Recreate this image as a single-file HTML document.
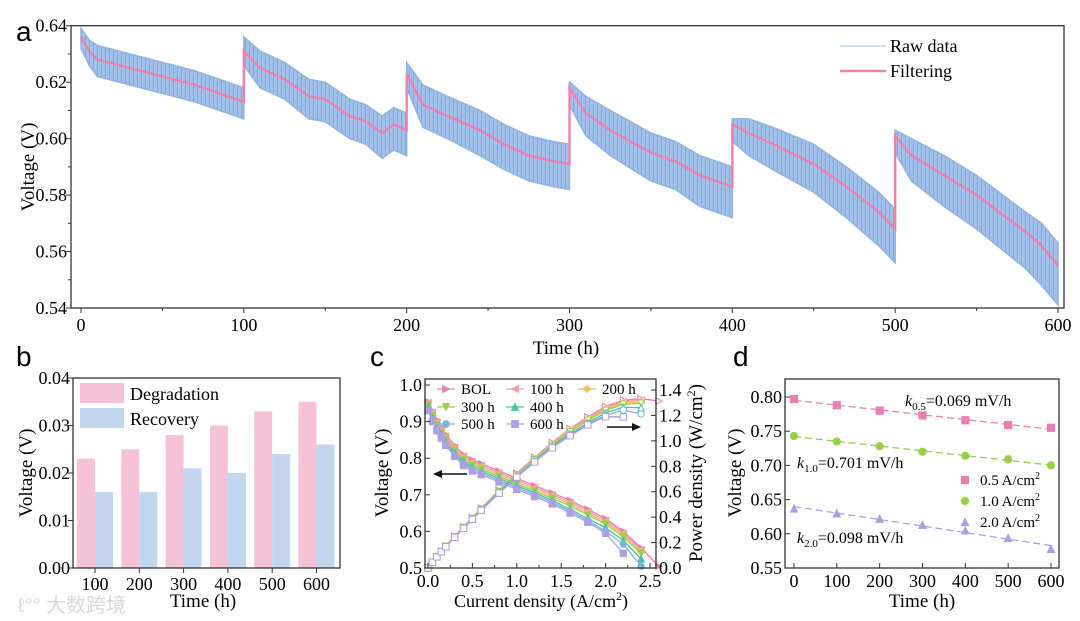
<!DOCTYPE html>
<html><head><meta charset="utf-8"><style>
body{margin:0;background:#fff}
svg{display:block;font-family:"Liberation Serif",serif}
</style></head><body>
<svg id="s" width="1080" height="621" viewBox="0 0 1080 621" xmlns="http://www.w3.org/2000/svg">
<defs><pattern id="noise" width="4" height="7" patternUnits="userSpaceOnUse"><rect width="4" height="7" fill="#a2c0e8"/><rect x="1" width="1" height="7" fill="#86a9da"/></pattern></defs>
<g id="ga"></g>
<g id="gb"></g>
<g id="gc"></g>
<g id="gd"></g>
<text x="18" y="612" font-family="Liberation Sans,'Noto Sans CJK SC',sans-serif" font-size="20" fill="#d8d8d8">ℓ°° 大数跨境</text>
</svg>
<script>
// ---------- Panel a data ----------
const aTime=[0,5,10,30,50,70,85,100,100,110,125,140,150,165,175,185,192,200,200,210,225,245,260,275,290,300,300,310,325,350,365,380,390,400,400,410,425,450,470,490,500,500,510,530,550,580,590,600];
const aFilt=[0.636,0.631,0.628,0.625,0.622,0.619,0.616,0.613,0.631,0.625,0.621,0.615,0.614,0.608,0.606,0.602,0.605,0.603,0.623,0.612,0.608,0.603,0.598,0.594,0.592,0.591,0.618,0.609,0.603,0.595,0.592,0.587,0.585,0.583,0.605,0.602,0.598,0.591,0.583,0.574,0.568,0.601,0.594,0.587,0.580,0.567,0.562,0.555];
const aNoiseUp=[0.003,0.004,0.005,0.005,0.005,0.005,0.005,0.005,0.005,0.006,0.006,0.006,0.006,0.006,0.006,0.006,0.006,0.006,0.004,0.007,0.007,0.007,0.007,0.007,0.007,0.007,0.002,0.006,0.007,0.007,0.007,0.007,0.007,0.007,0.002,0.005,0.006,0.007,0.007,0.007,0.007,0.002,0.006,0.007,0.007,0.007,0.008,0.008];
const aNoiseDn=[0.004,0.005,0.006,0.006,0.006,0.006,0.006,0.006,0.005,0.007,0.007,0.008,0.008,0.008,0.008,0.009,0.009,0.009,0.005,0.008,0.008,0.009,0.009,0.009,0.009,0.009,0.006,0.008,0.009,0.010,0.010,0.011,0.011,0.011,0.006,0.008,0.009,0.010,0.011,0.012,0.012,0.006,0.009,0.011,0.012,0.013,0.014,0.014];
const aXTicks=[0,100,200,300,400,500,600];
const aYTicks=[0.54,0.56,0.58,0.60,0.62,0.64];
// ---------- Panel b data ----------
const bCats=["100","200","300","400","500","600"];
const bDeg=[0.023,0.025,0.028,0.030,0.033,0.035];
const bRec=[0.016,0.016,0.021,0.020,0.024,0.026];
const bYTicks=[0,0.01,0.02,0.03,0.04];
// ---------- Panel c data ----------
const cCurrent=[0,0.05,0.1,0.15,0.2,0.3,0.4,0.5,0.6,0.8,1.0,1.2,1.4,1.6,1.8,2.0,2.2,2.4,2.6];
const cNames=["BOL","100 h","200 h","300 h","400 h","500 h","600 h"];
const cV0=[.955,.93,.905,.885,.865,.835,.81,.795,.785,.765,.745,.725,.705,.685,.66,.635,.6,.555,.505];
const cV1=[.952,.925,.9,.88,.86,.83,.805,.79,.78,.76,.74,.72,.70,.68,.655,.63,.595,.55];
const cV2=[.948,.92,.895,.875,.855,.825,.80,.785,.775,.755,.735,.715,.695,.675,.65,.625,.59,.545];
const cV3=[.945,.915,.89,.87,.85,.82,.795,.78,.77,.75,.73,.71,.69,.67,.645,.62,.585,.54];
const cV4=[.94,.91,.885,.865,.845,.815,.79,.775,.765,.745,.725,.705,.685,.66,.635,.61,.575,.525];
const cV5=[.935,.905,.88,.86,.84,.81,.785,.77,.76,.74,.72,.70,.68,.655,.63,.60,.565,.505];
const cV6=[.93,.90,.875,.855,.835,.805,.78,.765,.755,.735,.715,.695,.675,.65,.625,.595,.54];
const cXTicks=[0,0.5,1.0,1.5,2.0,2.5];
const cYTicks=[0.5,0.6,0.7,0.8,0.9,1.0];
const cPTicks=[0,0.2,0.4,0.6,0.8,1.0,1.2,1.4];
// ---------- Panel d data ----------
const dTime=[0,100,200,300,400,500,600];
const d05=[0.797,0.788,0.780,0.773,0.766,0.759,0.755];
const d10=[0.743,0.735,0.728,0.720,0.714,0.709,0.700];
const d20=[0.637,0.630,0.622,0.613,0.605,0.594,0.578];
const dYTicks=[0.55,0.60,0.65,0.70,0.75,0.80];

const NS="http://www.w3.org/2000/svg";
function mk(p,tag,at,txt){const e=document.createElementNS(NS,tag);for(const k in at)e.setAttribute(k,at[k]);if(txt!==undefined)e.textContent=txt;p.appendChild(e);return e;}
function lin(d0,d1,r0,r1){return v=>r0+(v-d0)/(d1-d0)*(r1-r0);}

// ===== Panel a =====
(function(){
const g=document.getElementById('ga');
const X=lin(0,600,81,1058),Y=lin(0.54,0.64,308,25.7);
let up=[],dn=[];
for(let i=0;i<aTime.length;i++){up.push(X(aTime[i])+','+Y(aFilt[i]+aNoiseUp[i]));dn.unshift(X(aTime[i])+','+Y(aFilt[i]-aNoiseDn[i]));}
const band=mk(g,'polygon',{points:up.concat(dn).join(' '),fill:'url(#noise)',stroke:'#90b2e0','stroke-width':1.5});


const fl=mk(g,'polyline',{points:aTime.map((t,i)=>X(t)+','+Y(aFilt[i])).join(' '),fill:'none',stroke:'#ee82ad','stroke-width':2.4});


const fr=mk(g,'rect',{x:71,y:25.7,width:993,height:282.3,fill:'none',stroke:'#333','stroke-width':1.3});


aXTicks.forEach(t=>{mk(g,'line',{x1:X(t),x2:X(t),y1:308,y2:313,stroke:'#333'});const tx=mk(g,'text',{x:X(t),y:331,'font-size':18,'text-anchor':'middle'},String(t));});
for(let t=50;t<600;t+=100)mk(g,'line',{x1:X(t),x2:X(t),y1:308,y2:311,stroke:'#333'});
aYTicks.forEach(v=>{mk(g,'line',{x1:66,x2:71,y1:Y(v),y2:Y(v),stroke:'#333'});const tx=mk(g,'text',{x:67,y:Y(v)+6,'font-size':18,'text-anchor':'end'},v.toFixed(2));});
for(let v=0.55;v<0.64;v+=0.02)mk(g,'line',{x1:68,x2:71,y1:Y(v),y2:Y(v),stroke:'#333'});
let t=mk(g,'text',{x:566,y:354,'font-size':19,'text-anchor':'middle'},'Time (h)');
t=mk(g,'text',{x:34,y:167,'font-size':19,'text-anchor':'middle',transform:'rotate(-90 34 167)'},'Voltage (V)');
t=mk(g,'text',{x:16,y:41,'font-size':28,'font-family':'Liberation Sans,sans-serif'},'a');
mk(g,'line',{x1:840,x2:886,y1:46,y2:46,stroke:'#9dbde6','stroke-width':1});
t=mk(g,'text',{x:890,y:52,'font-size':18},'Raw data');
mk(g,'line',{x1:840,x2:886,y1:71,y2:71,stroke:'#ee82ad','stroke-width':2.5});
t=mk(g,'text',{x:890,y:77,'font-size':18},'Filtering');
})();

// ===== Panel b =====
(function(){
const g=document.getElementById('gb');
const Y=lin(0,0.04,568,378);const cx=i=>95+i*44.3;
bCats.forEach((c,i)=>{
 const r1=mk(g,'rect',{x:cx(i)-18,y:Y(bDeg[i]),width:18,height:568-Y(bDeg[i]),fill:'#f5c2d8'});
 
 
 const r2=mk(g,'rect',{x:cx(i),y:Y(bRec[i]),width:18,height:568-Y(bRec[i]),fill:'#c3d6f0'});
 
 
 mk(g,'line',{x1:cx(i),x2:cx(i),y1:568,y2:573,stroke:'#333'});
 const tx=mk(g,'text',{x:cx(i),y:590,'font-size':18,'text-anchor':'middle'},c);
});
mk(g,'rect',{x:73,y:378,width:267,height:190,fill:'none',stroke:'#333','stroke-width':1.3});
bYTicks.forEach(v=>{mk(g,'line',{x1:68,x2:73,y1:Y(v),y2:Y(v),stroke:'#333'});const tx=mk(g,'text',{x:70,y:Y(v)+6,'font-size':18,'text-anchor':'end'},v.toFixed(2));});
let t;
mk(g,'rect',{x:80,y:383,width:44,height:20,fill:'#f5c2d8'});
t=mk(g,'text',{x:130,y:400,'font-size':18},'Degradation');
mk(g,'rect',{x:80,y:408,width:44,height:20,fill:'#c3d6f0'});
t=mk(g,'text',{x:130,y:425,'font-size':18},'Recovery');
t=mk(g,'text',{x:203,y:607,'font-size':19,'text-anchor':'middle'},'Time (h)');
t=mk(g,'text',{x:32,y:473,'font-size':19,'text-anchor':'middle',transform:'rotate(-90 32 473)'},'Voltage (V)');
t=mk(g,'text',{x:16,y:366,'font-size':28,'font-family':'Liberation Sans,sans-serif'},'b');
})();

// markers
function marker(g,type,x,y,col,fill,s){
 s=s||3.6;const f=fill?col:'#fff';let e;
 if(type==='circle')e=mk(g,'circle',{cx:x,cy:y,r:s,fill:f,stroke:col,'stroke-width':1});
 else if(type==='square')e=mk(g,'rect',{x:x-s,y:y-s,width:2*s,height:2*s,fill:f,stroke:col,'stroke-width':1});
 else{let p;
  if(type==='right')p=[[x-s,y-s],[x+s,y],[x-s,y+s]];
  else if(type==='left')p=[[x+s,y-s],[x-s,y],[x+s,y+s]];
  else if(type==='up')p=[[x-s,y+s],[x,y-s],[x+s,y+s]];
  else if(type==='down')p=[[x-s,y-s],[x,y+s],[x+s,y-s]];
  else p=[[x,y-s],[x+s,y],[x,y+s],[x-s,y]];
  e=mk(g,'polygon',{points:p.map(q=>q.join(',')).join(' '),fill:f,stroke:col,'stroke-width':1});}
 return e;
}

// ===== Panel c =====
(function(){
const g=document.getElementById('gc');
const X=lin(0,2.5,428,650),Y=lin(0.5,1.0,568,385),P=lin(0,1.4,568,390);
const series=[cV0,cV1,cV2,cV3,cV4,cV5,cV6];
const cols=['#e77fb4','#f29fa6','#efbf5c','#96cf4a','#49c3a0','#7eb2e4','#ad9fe0'];
const mks=['right','left','diamond','down','up','circle','square'];
series.forEach((V,k)=>{
 const pts=V.map((v,i)=>X(cCurrent[i])+','+Y(v)).join(' ');
 const l=mk(g,'polyline',{points:pts,fill:'none',stroke:cols[k],'stroke-width':1.3});
 
 
 const pp=V.map((v,i)=>X(cCurrent[i])+','+P(v*cCurrent[i])).join(' ');
 const l2=mk(g,'polyline',{points:pp,fill:'none',stroke:cols[k],'stroke-width':1.3});
 
 
 V.forEach((v,i)=>{marker(g,mks[k],X(cCurrent[i]),Y(v),cols[k],true,3.2);marker(g,mks[k],X(cCurrent[i]),P(v*cCurrent[i]),cols[k],false,3.2);});
});
mk(g,'rect',{x:425,y:379,width:231,height:189,fill:'none',stroke:'#333','stroke-width':1.3});
cXTicks.forEach(v=>{mk(g,'line',{x1:X(v),x2:X(v),y1:568,y2:563,stroke:'#333'});const tx=mk(g,'text',{x:X(v),y:587,'font-size':18,'text-anchor':'middle'},v.toFixed(1));});
for(let v=0.25;v<2.6;v+=0.5)mk(g,'line',{x1:X(v),x2:X(v),y1:568,y2:565,stroke:'#333'});
cYTicks.forEach(v=>{mk(g,'line',{x1:425,x2:430,y1:Y(v),y2:Y(v),stroke:'#333'});const tx=mk(g,'text',{x:422,y:Y(v)+6,'font-size':18,'text-anchor':'end'},v.toFixed(1));});
cPTicks.forEach(v=>{mk(g,'line',{x1:651,x2:656,y1:P(v),y2:P(v),stroke:'#333'});const tx=mk(g,'text',{x:659,y:P(v)+6,'font-size':18},v.toFixed(1));});
// legend (explicit slots as in reference)
const lx=[437,506,578,437,506,437,506],ly=[389,389,389,407,407,424,424];
cNames.forEach((n,k)=>{const cx=lx[k],cy=ly[k];
 mk(g,'line',{x1:cx,x2:cx+18,y1:cy,y2:cy,stroke:cols[k],'stroke-width':1.3});marker(g,mks[k],cx+9,cy,cols[k],true,3.4);
 const tx=mk(g,'text',{x:cx+24,y:cy+5,'font-size':15},n);});
mk(g,'line',{x1:467,x2:440,y1:474,y2:474,stroke:'#111','stroke-width':1.5});
mk(g,'polygon',{points:'433,474 442,470 442,478',fill:'#111'});
mk(g,'line',{x1:607,x2:633,y1:427,y2:427,stroke:'#111','stroke-width':1.5});
mk(g,'polygon',{points:'641,427 632,423 632,431',fill:'#111'});
let t=mk(g,'text',{x:541,y:607,'font-size':18,'text-anchor':'middle'},'Current density (A/cm');
mk(t,'tspan',{'font-size':12,dy:-7},'2');mk(t,'tspan',{dy:7},')');
t=mk(g,'text',{x:388,y:473,'font-size':19,'text-anchor':'middle',transform:'rotate(-90 388 473)'},'Voltage (V)');
t=mk(g,'text',{x:702,y:473,'font-size':19,'text-anchor':'middle',transform:'rotate(-90 702 473)'},'Power density (W/cm');
mk(t,'tspan',{'font-size':12,dy:-7},'2');mk(t,'tspan',{dy:7},')');
t=mk(g,'text',{x:370,y:366,'font-size':28,'font-family':'Liberation Sans,sans-serif'},'c');
})();

// ===== Panel d =====
(function(){
const g=document.getElementById('gd');
const X=lin(0,600,794,1051),Y=lin(0.55,0.80,568,397);
const sets=[[d05,'#e77fb4','square','0.5'],[d10,'#96cf4a','circle','1.0'],[d20,'#ad9fe0','up','2.0']];
sets.forEach(([V,col,m,nm])=>{
 const n=V.length;let sx=0,sy=0,sxx=0,sxy=0;
 for(let i=0;i<n;i++){sx+=dTime[i];sy+=V[i];sxx+=dTime[i]*dTime[i];sxy+=dTime[i]*V[i];}
 const b=(n*sxy-sx*sy)/(n*sxx-sx*sx),a=(sy-b*sx)/n;
 const fl=mk(g,'line',{x1:X(0),y1:Y(a),x2:X(600),y2:Y(a+b*600),stroke:col,'stroke-width':1.3,'stroke-dasharray':'7,4'});
 
 
 V.forEach((v,i)=>{const e=marker(g,m,X(dTime[i]),Y(v),col,true,3.6);});
});
mk(g,'rect',{x:785,y:379,width:274,height:189,fill:'none',stroke:'#333','stroke-width':1.3});
dTime.forEach(v=>{mk(g,'line',{x1:X(v),x2:X(v),y1:568,y2:563,stroke:'#333'});const tx=mk(g,'text',{x:X(v),y:587,'font-size':18,'text-anchor':'middle'},String(v));});
dYTicks.forEach(v=>{mk(g,'line',{x1:785,x2:790,y1:Y(v),y2:Y(v),stroke:'#333'});const tx=mk(g,'text',{x:782,y:Y(v)+6,'font-size':18,'text-anchor':'end'},v.toFixed(2));});
function ktxt(x,y,sub,val){const t=mk(g,'text',{x:x,y:y,'font-size':16});
 mk(t,'tspan',{'font-style':'italic'},'k');mk(t,'tspan',{'font-size':11,dy:4},sub);mk(t,'tspan',{dy:-4},'='+val+' mV/h');}
ktxt(905,406,'0.5','0.069');ktxt(797,468,'1.0','0.701');ktxt(797,543,'2.0','0.098');
sets.forEach(([V,col,m,nm],k)=>{const y=480+k*21;marker(g,m,965,y,col,true,3.6);
 const t=mk(g,'text',{x:980,y:y+5,'font-size':15},nm+' A/cm');mk(t,'tspan',{'font-size':10,dy:-6},'2');});
let t=mk(g,'text',{x:922,y:607,'font-size':19,'text-anchor':'middle'},'Time (h)');
t=mk(g,'text',{x:741,y:473,'font-size':19,'text-anchor':'middle',transform:'rotate(-90 741 473)'},'Voltage (V)');
t=mk(g,'text',{x:733,y:366,'font-size':28,'font-family':'Liberation Sans,sans-serif'},'d');
})();
</script>
</body></html>
